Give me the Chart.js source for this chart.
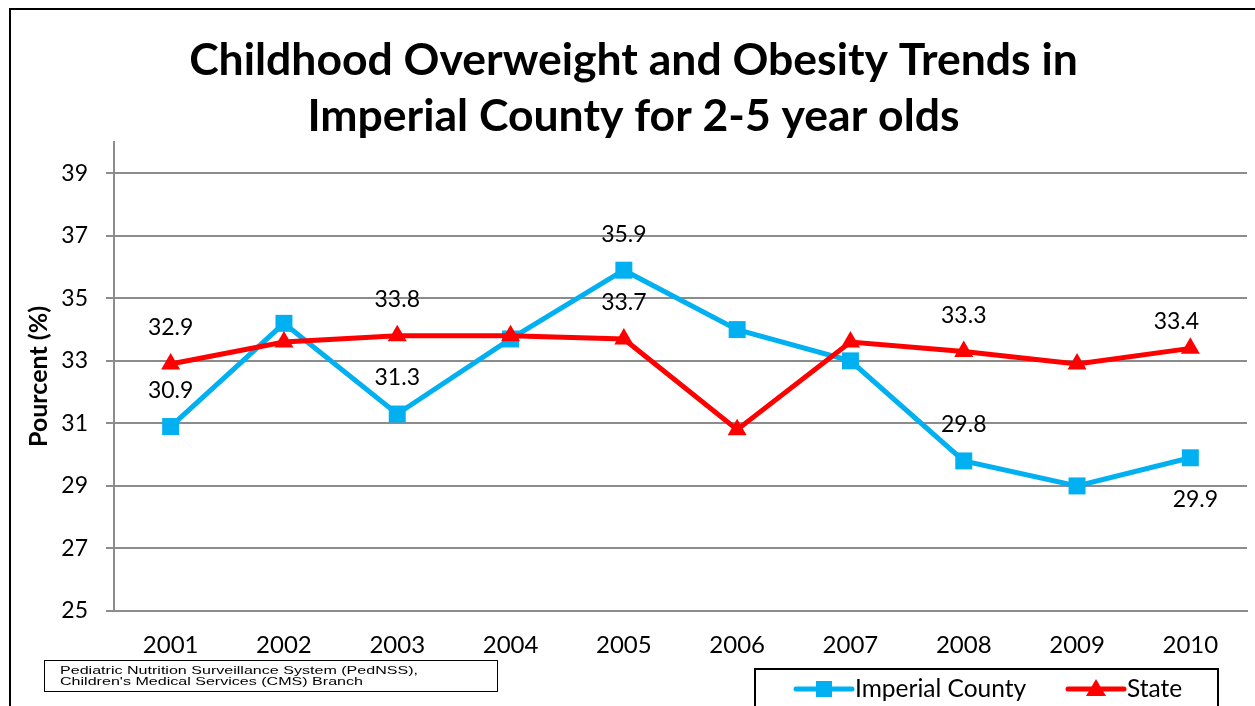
<!DOCTYPE html>
<html>
<head>
<meta charset="utf-8">
<script src="https://cdn.jsdelivr.net/npm/chart.js@4/dist/chart.umd.min.js"></script>
<style>
    html, body { margin: 0; padding: 0; background: #fff; }
    #wrap { width: 1255px; height: 706px; position: relative; }
</style>
</head>
<body>
<div id="wrap"><canvas id="chart" width="1255" height="706"></canvas></div>
<script>
// Chart values
const years = ['2001', '2002', '2003', '2004', '2005', '2006', '2007', '2008', '2009', '2010'];
const imperialCounty = [30.9, 34.2, 31.3, 33.7, 35.9, 34.0, 33.0, 29.8, 29.0, 29.9];
const stateValues = [32.9, 33.6, 33.8, 33.8, 33.7, 30.8, 33.6, 33.3, 32.9, 33.4];
const yTicks = [25, 27, 29, 31, 33, 35, 37, 39];

// Which points carry a value label, and where
const imperialLabelAt = [0, 2, 4, 7, 9];
const imperialLabelSide = ['above', 'above', 'above', 'above', 'below'];
const stateLabelAt = [0, 2, 4, 7, 9];
const stateLabelSide = ['above', 'above', 'above', 'above', 'above'];

const sourceLines = ['Pediatric Nutrition Surveillance System (PedNSS),', "Children's Medical Services (CMS) Branch"];

const FONT = 'Lato, "Open Sans", sans-serif';
const BLUE = '#00B0F0';
const RED = '#FF0000';
const GRID = '#8c8c8c';

/**
 * Draws the outer frame before everything else
 */
const framePlugin = {
    id: 'frame',
    beforeDraw(chart) {
        const ctx = chart.ctx;
        ctx.save();
        ctx.fillStyle = '#fff';
        ctx.fillRect(0, 0, chart.width, chart.height);
        ctx.strokeStyle = '#000';
        ctx.lineWidth = 2;
        ctx.strokeRect(10, 9, 1400, 900);
        ctx.restore();
    }
};

/**
 * Value labels, source note and legend box
 */
const extrasPlugin = {
    id: 'extras',
    afterDraw(chart) {
        const ctx = chart.ctx;
        ctx.save();

        // value labels
        ctx.font = '23px ' + FONT;
        ctx.fillStyle = '#000';
        ctx.textAlign = 'center';
        ctx.textBaseline = 'middle';
        const drawLabels = (dsIndex, values, idxs, sides) => {
            const meta = chart.getDatasetMeta(dsIndex);
            idxs.forEach((i, k) => {
                const pt = meta.data[i];
                const above = sides[k] === 'above';
                const last = i === values.length - 1;
                const dy = above ? (last ? -27 : -36) : 42;
                const dx = last ? (above ? -14 : 5) : 0;
                ctx.fillText(values[i].toFixed(1), pt.x + dx, pt.y + dy);
            });
        };
        drawLabels(0, stateValues, stateLabelAt, stateLabelSide);
        drawLabels(1, imperialCounty, imperialLabelAt, imperialLabelSide);

        // source box (text is stretched wide, as in the original)
        ctx.strokeStyle = '#000';
        ctx.lineWidth = 1;
        ctx.strokeRect(44.5, 660.5, 453, 31);
        ctx.font = '11px "Liberation Sans", Arial, sans-serif';
        ctx.textAlign = 'left';
        ctx.fillStyle = '#000';
        const stretch = 358 / ctx.measureText(sourceLines[0]).width;
        ctx.save();
        ctx.translate(60, 0);
        ctx.scale(stretch, 1);
        ctx.fillText(sourceLines[0], 0, 671);
        ctx.fillText(sourceLines[1], 0, 682);
        ctx.restore();

        // legend box
        ctx.lineWidth = 2;
        ctx.strokeRect(755, 669, 463, 60);
        const legendItems = [
            { text: 'Imperial County', color: BLUE, marker: 'rect', x0: 796, x1: 852, tx: 855 },
            { text: 'State', color: RED, marker: 'triangle', x0: 1068, x1: 1124, tx: 1127 }
        ];
        const ly = 689;
        legendItems.forEach(item => {
            ctx.strokeStyle = item.color;
            ctx.fillStyle = item.color;
            ctx.lineWidth = 5;
            ctx.lineCap = 'round';
            ctx.beginPath();
            ctx.moveTo(item.x0, ly);
            ctx.lineTo(item.x1, ly);
            ctx.stroke();
            const cx = (item.x0 + item.x1) / 2;
            ctx.beginPath();
            if (item.marker === 'rect') {
                ctx.rect(cx - 8, ly - 8, 16, 16);
            } else {
                ctx.moveTo(cx, ly - 10);
                ctx.lineTo(cx + 10, ly + 7);
                ctx.lineTo(cx - 10, ly + 7);
                ctx.closePath();
            }
            ctx.fill();
            ctx.fillStyle = '#000';
            ctx.font = '24.5px ' + FONT;
            ctx.textAlign = 'left';
            ctx.fillText(item.text, item.tx, ly);
        });

        ctx.restore();
    }
};

const ctx = document.getElementById('chart').getContext('2d');

const config = {
    type: 'line',
    data: {
        labels: years,
        datasets: [{
            label: 'State',
            data: stateValues,
            borderColor: RED,
            backgroundColor: RED,
            borderWidth: 5,
            pointStyle: 'triangle',
            pointRadius: 11,
            pointBorderWidth: 0,
            pointBackgroundColor: RED,
            tension: 0,
            clip: false,
            order: 0
        }, {
            label: 'Imperial County',
            data: imperialCounty,
            borderColor: BLUE,
            backgroundColor: BLUE,
            borderWidth: 5,
            pointStyle: 'rect',
            pointRadius: 12,
            pointBorderWidth: 0,
            pointBackgroundColor: BLUE,
            tension: 0,
            clip: false,
            order: 1
        }]
    },
    options: {
        responsive: false,
        animation: false,
        layout: {
            autoPadding: false,
            padding: { top: 33, right: 8, bottom: 48, left: 20 }
        },
        plugins: {
            legend: { display: false },
            tooltip: { enabled: false },
            title: {
                display: true,
                text: ['Childhood Overweight and Obesity Trends in', 'Imperial County for 2-5 year olds'],
                color: '#000',
                font: { family: FONT, size: 44.5, weight: 'bold', lineHeight: '56px' },
                padding: { top: 0, bottom: -3 }
            }
        },
        scales: {
            x: {
                offset: true,
                grid: { display: false, drawTicks: false },
                border: { color: GRID, width: 2 },
                ticks: {
                    color: '#000',
                    font: { family: FONT, size: 24 },
                    padding: 20,
                    maxRotation: 0
                },
                afterFit(scale) {
                    scale.height = 47;
                    scale.paddingLeft = 0;
                    scale.paddingRight = 0;
                }
            },
            y: {
                min: 25,
                max: 40,
                afterBuildTicks(axis) {
                    axis.ticks = yTicks.map(v => ({ value: v }));
                },
                grid: { color: GRID, lineWidth: 2, tickLength: 8 },
                border: { color: GRID, width: 2 },
                ticks: {
                    color: '#000',
                    font: { family: FONT, size: 23 },
                    padding: 18
                },
                title: {
                    display: true,
                    text: 'Pourcent (%)',
                    color: '#000',
                    font: { family: FONT, size: 25, weight: 'bold' },
                    padding: { top: 4, bottom: 0 }
                },
                afterFit(scale) { scale.width = 94; }
            }
        }
    },
    plugins: [framePlugin, extrasPlugin]
};

new Chart(ctx, config);
</script>
</body>
</html>
